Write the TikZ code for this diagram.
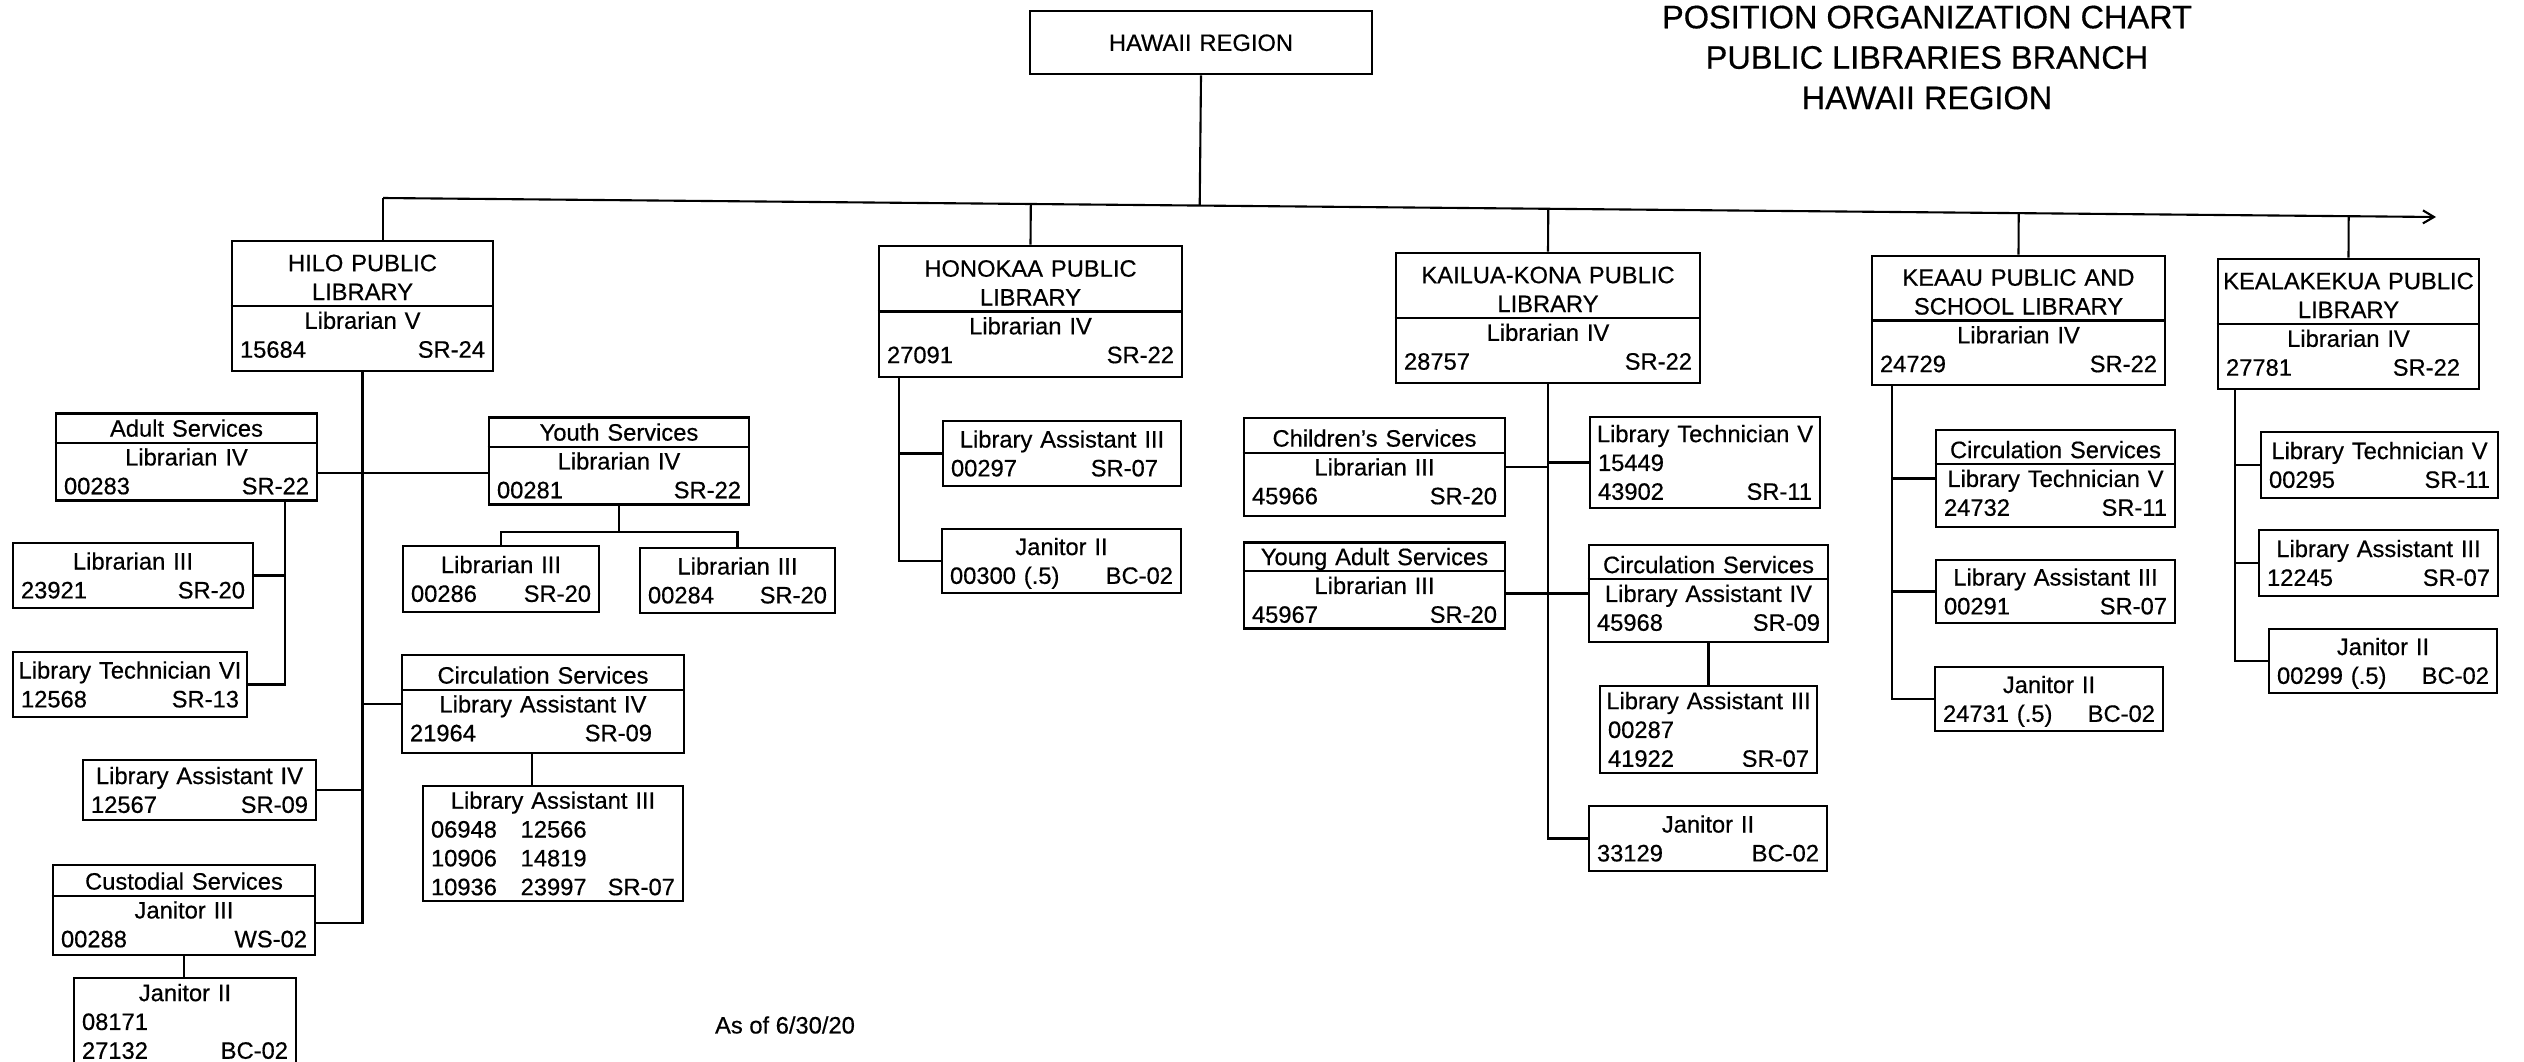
\documentclass[tikz,border=0pt]{standalone}
\usepackage{fontspec}
\setmainfont{Liberation Sans}[FakeBold=0.5]
\usetikzlibrary{arrows.meta,calc}

\newcommand{\posstrut}{\rule[-3.4pt]{0pt}{16.4pt}}
\newcommand{\boxrow}[1]{\makebox[\linewidth]{\posstrut#1}}
\newcommand{\boxpair}[3][0pt]{\makebox[\linewidth]{\posstrut#2\hfill#3\hspace*{#1}}}

\tikzset{
  posbox/.style 2 args={draw, line width=1.5pt, minimum width=#1*0.2mm, minimum height=#2*0.2mm,
    text width={(#1-16)*0.2mm}, inner xsep=1.6mm, inner ysep=0pt, align=center,
    font=\fontsize{13.5pt}{16.4pt}\selectfont},
  link/.style={line width=1.2pt},
  divider/.style={line width=1.2pt}
}

\begin{document}
\begin{tikzpicture}[x=0.2mm, y=-0.2mm]
        \useasboundingbox (0,0) rectangle (2524,1062);

        \node[font=\fontsize{18.5pt}{23pt}\selectfont, align=center, inner sep=0pt] (title) at (1927,57.5) {POSITION ORGANIZATION CHART\\PUBLIC LIBRARIES BRANCH\\HAWAII REGION};
        \node[font=\fontsize{13.5pt}{16.4pt}\selectfont, inner sep=0pt] (asof) at (785,1025) {As of 6/30/20};

        \node[posbox={342}{63}] (region) at (1201,42.5) {\boxrow{HAWAII REGION}};

        % Hilo
        \node[posbox={261}{130}] (hilo) at (362.5,306) {\boxrow{HILO PUBLIC}\\\boxrow{LIBRARY}\\\boxrow{Librarian V}\\\boxpair{15684}{SR-24}};
        \node[posbox={261}{86}] (adult) at (186.5,457) {\boxrow{Adult Services}\\\boxrow{Librarian IV}\\\boxpair{00283}{SR-22}};
        \node[posbox={260}{86}] (youth) at (619,461) {\boxrow{Youth Services}\\\boxrow{Librarian IV}\\\boxpair{00281}{SR-22}};
        \node[posbox={240}{65}] (hlib3a) at (133,575.5) {\boxrow{Librarian III}\\\boxpair{23921}{SR-20}};
        \node[posbox={234}{65}] (hlt6) at (130,684.5) {\boxrow{Library Technician VI}\\\boxpair{12568}{SR-13}};
        \node[posbox={196}{66}] (hlib3b) at (501,579) {\boxrow{Librarian III}\\\boxpair{00286}{SR-20}};
        \node[posbox={195}{65}] (hlib3c) at (737.5,580.5) {\boxrow{Librarian III}\\\boxpair{00284}{SR-20}};
        \node[posbox={282}{98}] (hcirc) at (543,704) {\boxrow{Circulation Services}\\\boxrow{Library Assistant IV}\\\boxpair[4.8mm]{21964}{SR-09}};
        \node[posbox={260}{115}] (hla3) at (553,843.5) {\boxrow{Library Assistant III}\\\boxpair{06948\quad 12566}{}\\\boxpair{10906\quad 14819}{}\\\boxpair{10936\quad 23997}{SR-07}};
        \node[posbox={233}{60}] (hla4) at (199.5,790) {\boxrow{Library Assistant IV}\\\boxpair{12567}{SR-09}};
        \node[posbox={262}{90}] (hcust) at (184,910) {\boxrow{Custodial Services}\\\boxrow{Janitor III}\\\boxpair{00288}{WS-02}};
        \node[posbox={222}{87}] (hjan) at (185,1021.5) {\boxrow{Janitor II}\\\boxpair{08171}{}\\\boxpair{27132}{BC-02}};

        % Honokaa
        \node[posbox={303}{131}] (hono) at (1030.5,311.5) {\boxrow{HONOKAA PUBLIC}\\\boxrow{LIBRARY}\\\boxrow{Librarian IV}\\\boxpair{27091}{SR-22}};
        \node[posbox={238}{65}] (nla3) at (1062,453.5) {\boxrow{Library Assistant III}\\\boxpair[3mm]{00297}{SR-07}};
        \node[posbox={239}{64}] (njan) at (1061.5,561) {\boxrow{Janitor II}\\\boxpair{00300 (.5)}{BC-02}};

        % Kailua-Kona
        \node[posbox={304}{130}] (kona) at (1548,318) {\boxrow{KAILUA-KONA PUBLIC}\\\boxrow{LIBRARY}\\\boxrow{Librarian IV}\\\boxpair{28757}{SR-22}};
        \node[posbox={261}{98}] (kchild) at (1374.5,467) {\boxrow{Children's Services}\\\boxrow{Librarian III}\\\boxpair{45966}{SR-20}};
        \node[posbox={230}{91}] (klt5) at (1705,462.5) {\boxrow{Library Technician V}\\\boxpair{15449}{}\\\boxpair{43902}{SR-11}};
        \node[posbox={261}{85}] (kya) at (1374.5,585.5) {\boxrow{Young Adult Services}\\\boxrow{Librarian III}\\\boxpair{45967}{SR-20}};
        \node[posbox={239}{97}] (kcirc) at (1708.5,593.5) {\boxrow{Circulation Services}\\\boxrow{Library Assistant IV}\\\boxpair{45968}{SR-09}};
        \node[posbox={217}{87}] (kla3) at (1708.5,729.5) {\boxrow{Library Assistant III}\\\boxpair{00287}{}\\\boxpair{41922}{SR-07}};
        \node[posbox={238}{65}] (kjan) at (1708,838.5) {\boxrow{Janitor II}\\\boxpair{33129}{BC-02}};

        % Keaau
        \node[posbox={293}{129}] (keaau) at (2018.5,320.5) {\boxrow{KEAAU PUBLIC AND}\\\boxrow{SCHOOL LIBRARY}\\\boxrow{Librarian IV}\\\boxpair{24729}{SR-22}};
        \node[posbox={239}{97}] (ecirc) at (2055.5,478.5) {\boxrow{Circulation Services}\\\boxrow{Library Technician V}\\\boxpair{24732}{SR-11}};
        \node[posbox={239}{63}] (ela3) at (2055.5,591.5) {\boxrow{Library Assistant III}\\\boxpair{00291}{SR-07}};
        \node[posbox={228}{64}] (ejan) at (2049,699) {\boxrow{Janitor II}\\\boxpair{24731 (.5)}{BC-02}};

        % Kealakekua
        \node[posbox={261}{130}] (kealak) at (2348.5,324) {\boxrow{KEALAKEKUA PUBLIC}\\\boxrow{LIBRARY}\\\boxrow{Librarian IV}\\\boxpair[2.2mm]{27781}{SR-22}};
        \node[posbox={237}{66}] (alt5) at (2379.5,465) {\boxrow{Library Technician V}\\\boxpair{00295}{SR-11}};
        \node[posbox={239}{66}] (ala3) at (2378.5,563) {\boxrow{Library Assistant III}\\\boxpair{12245}{SR-07}};
        \node[posbox={228}{64}] (ajan) at (2383,661) {\boxrow{Janitor II}\\\boxpair{00299 (.5)}{BC-02}};

        % header rules
        \draw[divider] (hilo.west) -- (hilo.east);
        \draw[divider] (hono.west) -- (hono.east);
        \draw[divider] (kona.west) -- (kona.east);
        \draw[divider] (keaau.west) -- (keaau.east);
        \draw[divider] (kealak.west) -- (kealak.east);
        \draw[divider] ($(adult.west)+(0,-14.4)$) -- ($(adult.east)+(0,-14.4)$);
        \draw[divider] ($(youth.west)+(0,-14.4)$) -- ($(youth.east)+(0,-14.4)$);
        \draw[divider] ($(hcirc.west)+(0,-14.4)$) -- ($(hcirc.east)+(0,-14.4)$);
        \draw[divider] ($(hcust.west)+(0,-14.4)$) -- ($(hcust.east)+(0,-14.4)$);
        \draw[divider] ($(kchild.west)+(0,-14.4)$) -- ($(kchild.east)+(0,-14.4)$);
        \draw[divider] ($(kya.west)+(0,-14.4)$) -- ($(kya.east)+(0,-14.4)$);
        \draw[divider] ($(kcirc.west)+(0,-14.4)$) -- ($(kcirc.east)+(0,-14.4)$);
        \draw[divider] ($(ecirc.west)+(0,-14.4)$) -- ($(ecirc.east)+(0,-14.4)$);

        % region bus
        \coordinate (busL) at (383,198);
        \coordinate (busR) at (2436,217);
        \draw[link, -{Straight Barb[length=2.2mm,width=2.6mm]}] (busL) -- (busR);
        \draw[link] (region.south) -- ($(busL)!(region.south)!(busR)$);
        \draw[link] (busL) -- (busL |- hilo.north);
        \draw[link] (hono.north) -- ($(busL)!(hono.north)!(busR)$);
        \draw[link] (kona.north) -- ($(busL)!(kona.north)!(busR)$);
        \draw[link] (keaau.north) -- ($(busL)!(keaau.north)!(busR)$);
        \draw[link] (kealak.north) -- ($(busL)!(kealak.north)!(busR)$);

        % Hilo links
        \draw[link] (hilo.south) |- ($(hcust.east)+(0,13)$);
        \draw[link] ($(adult.east)+(0,16)$) -- ($(youth.west)+(0,12)$);
        \draw[link] (hcirc.west) -- (hcirc.west -| hilo.south);
        \draw[link] (hla4.east) -- (hla4.east -| hilo.south);
        \coordinate (adultdown) at ($(adult.south)+(98.5,0)$);
        \draw[link] (adultdown) |- (hlt6.east);
        \draw[link] (hlib3a.east) -- (hlib3a.east -| adultdown);
        \coordinate (youthfork) at ($(youth.south)+(0,26)$);
        \draw[link] (youth.south) -- (youthfork);
        \draw[link] (hlib3b.north) |- (youthfork) -| (hlib3c.north);
        \draw[link] ($(hcirc.south)+(-11,0)$) -- ($(hla3.north)+(-21,0)$);
        \draw[link] (hcust.south) -- (hcust.south |- hjan.north);

        % Honokaa links
        \coordinate (honodown) at ($(hono.south west)+(21,0)$);
        \draw[link] (honodown) |- (njan.west);
        \draw[link] (nla3.west) -- (nla3.west -| honodown);

        % Kailua-Kona links
        \draw[link] (kona.south) |- (kjan.west);
        \draw[link] (kchild.east) -- (kchild.east -| kona.south);
        \draw[link] (klt5.west) -- (klt5.west -| kona.south);
        \draw[link] (kcirc.west) -- (kcirc.west -| kya.east);
        \draw[link] (kcirc.south) -- (kla3.north);

        % Keaau links
        \coordinate (keaaudown) at ($(keaau.south west)+(21,0)$);
        \draw[link] (keaaudown) |- (ejan.west);
        \draw[link] (ecirc.west) -- (ecirc.west -| keaaudown);
        \draw[link] (ela3.west) -- (ela3.west -| keaaudown);

        % Kealakekua links
        \coordinate (kealakdown) at ($(kealak.south west)+(18,0)$);
        \draw[link] (kealakdown) |- (ajan.west);
        \draw[link] (alt5.west) -- (alt5.west -| kealakdown);
        \draw[link] (ala3.west) -- (ala3.west -| kealakdown);
    \end{tikzpicture}
\end{document}
